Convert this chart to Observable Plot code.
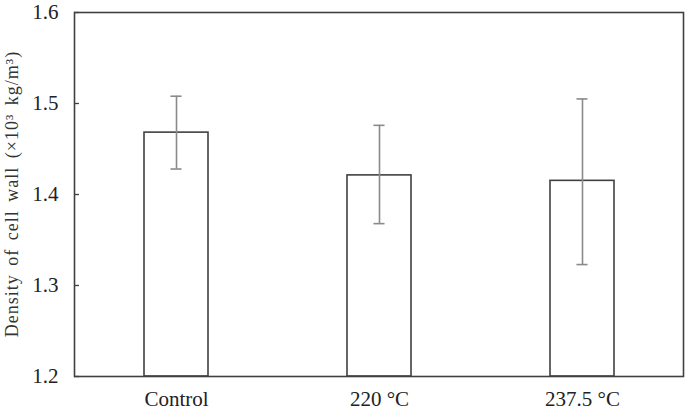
<!DOCTYPE html>
<html>
<head>
<meta charset="utf-8">
<script src="https://cdn.jsdelivr.net/npm/d3@7"></script>
<script src="https://cdn.jsdelivr.net/npm/@observablehq/plot@0.6"></script>
<style>
  html, body { margin: 0; padding: 0; background: #fff; }
  #chart svg { display: block; }
</style>
</head>
<body>
<div id="chart"></div>
<script>
const categories = ["Control", "220 °C", "237.5 °C"];
const means = [1.468, 1.421, 1.415];
const upper = [1.508, 1.476, 1.505];
const lower = [1.428, 1.368, 1.323];
const yTicks = [1.2, 1.3, 1.4, 1.5, 1.6];
const yLabel = "Density of cell wall (×10³ kg/m³)";

const data = categories.map((c, i) => ({cat: c, mean: means[i], hi: upper[i], lo: lower[i]}));

const W = 685, H = 414;
const mL = 74, mR = 2, mT = 12, mB = 38;
const pad = 0.685;
const step = (W - mL - mR) / categories.length;
const barW = step * (1 - pad);
const capW = 11;
const capInset = (barW - capW) / 2;

const chart = Plot.plot({
  width: W,
  height: H,
  marginLeft: mL,
  marginRight: mR,
  marginTop: mT,
  marginBottom: mB,
  style: {fontFamily: "'Liberation Serif', 'Times New Roman', serif", fontSize: "21px", color: "#222", background: "#fff"},
  x: {domain: categories, paddingInner: pad, paddingOuter: pad / 2, align: 0.5},
  y: {domain: [1.2, 1.6]},
  marks: [
    Plot.barY(data, {x: "cat", y1: 1.2, y2: "mean", fill: "#fff", stroke: "#404040", strokeWidth: 1.6}),
    Plot.ruleX(data, {x: "cat", y1: "lo", y2: "hi", stroke: "#8a8a8a", strokeWidth: 1.6}),
    Plot.tickY(data, {x: "cat", y: "hi", stroke: "#8a8a8a", strokeWidth: 1.6, insetLeft: capInset, insetRight: capInset}),
    Plot.tickY(data, {x: "cat", y: "lo", stroke: "#8a8a8a", strokeWidth: 1.6, insetLeft: capInset, insetRight: capInset}),
    Plot.frame({stroke: "#404040", strokeWidth: 1.6}),
    Plot.axisY({ticks: yTicks, tickSize: -5, text: null, label: null, stroke: "#404040", strokeWidth: 1.3}),
    Plot.axisY({ticks: yTicks, tickSize: 0, tickPadding: 16, tickFormat: d3.format(".1f"), label: null, fill: "#222"}),
    Plot.axisX({tickSize: 0, tickPadding: 15, label: null, fill: "#222"})
  ]
});

// y-axis title as rotated text
const svg = d3.select(chart);
svg.append("text")
  .attr("transform", `translate(${12},${(mT + (H - mB)) / 2}) rotate(-90)`)
  .attr("text-anchor", "middle")
  .attr("dominant-baseline", "central")
  .attr("fill", "#333")
  .style("font-family", "'Liberation Serif', 'Times New Roman', serif")
  .style("font-size", "18px")
  .style("letter-spacing", "1px")
  .style("word-spacing", "3px")
  .text(yLabel);

document.getElementById("chart").appendChild(chart);
</script>
</body>
</html>
